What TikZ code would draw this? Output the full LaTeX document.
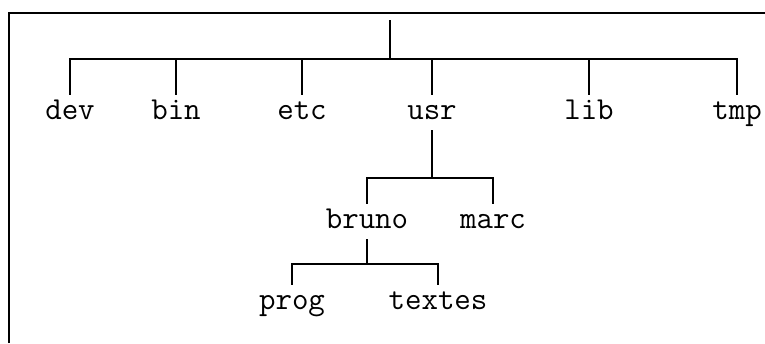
\documentclass[tikz,border=0pt]{standalone}
\usepackage{fontspec}
\begin{document}
\begin{tikzpicture}[x=1pt,y=-1pt,
  dir/.style={font=\ttfamily\fontsize{32}{34}\selectfont, anchor=base,
    text height=20pt, text depth=7pt, inner xsep=0pt, inner ysep=5pt},
  link/.style={line width=1.5pt, line cap=rect}]
\useasboundingbox (0,0) rectangle (765,343);
% frame
\draw[line width=1.8pt] (9,343) -- (9,13) -- (765,13);
% first level
\coordinate (top) at (390,21);
\coordinate (j0) at (390,59);
\node[dir] (dev) at (70,119) {dev};
\node[dir] (bin) at (176,119) {bin};
\node[dir] (etc) at (302,119) {etc};
\node[dir] (usr) at (432,119) {usr};
\node[dir] (lib) at (589,119) {lib};
\node[dir] (tmp) at (737,119) {tmp};
\draw[link] (top) -- (j0);
\draw[link] (dev.north) -- (dev.north |- j0) -- (tmp.north |- j0) -- (tmp.north);
\foreach \n in {bin,etc,usr,lib} \draw[link] (\n.north) -- (\n.north |- j0);
% usr subtree
\coordinate (j1) at (432,178);
\node[dir] (bruno) at (367,228) {bruno};
\node[dir] (marc) at (493,228) {marc};
\draw[link] (usr.south) -- (usr.south |- j1);
\draw[link] (bruno.north) -- (bruno.north |- j1) -- (marc.north |- j1) -- (marc.north);
% bruno subtree
\coordinate (j2) at (367,264);
\node[dir] (prog) at (292,309) {prog};
\node[dir] (textes) at (438,309) {textes};
\draw[link] (bruno.south) -- (bruno.south |- j2);
\draw[link] (prog.north) -- (prog.north |- j2) -- (textes.north |- j2) -- (textes.north);
\end{tikzpicture}
\end{document}
